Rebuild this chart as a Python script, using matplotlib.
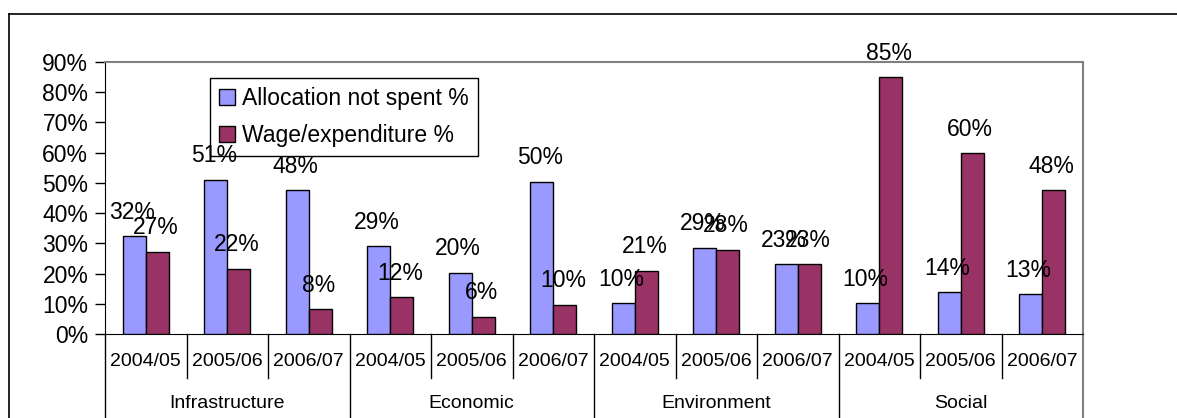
import matplotlib
matplotlib.use("Agg")
import matplotlib.pyplot as plt
from matplotlib.lines import Line2D
import numpy as np

plt.rcParams['font.family'] = ['Liberation Sans', 'DejaVu Sans']

years = ["2004/05", "2005/06", "2006/07"] * 4
groups = ["Infrastructure", "Economic", "Environment", "Social"]
not_spent = [32.4, 51.1, 47.6, 29.0, 20.3, 50.4, 10.3, 28.6, 23.1, 10.3, 13.9, 13.3]
wage_exp = [27.3, 21.6, 8.2, 12.2, 5.8, 9.8, 20.9, 27.9, 23.1, 84.8, 59.8, 47.6]
series_names = ["Allocation not spent %", "Wage/expenditure %"]
yticks = list(range(0, 91, 10))

W, H = 1177, 418
fig = plt.figure(figsize=(W / 100, H / 100), dpi=100)

# outer chart frame (left and top)
fig.add_artist(Line2D([9 / W, 9 / W], [0, 1 - 14 / H], color='black', lw=1.2))
fig.add_artist(Line2D([9 / W, 1], [1 - 14 / H, 1 - 14 / H], color='black', lw=1.2))

L, R, T, B = 105, 1083, 61.7, 334.3
ax = fig.add_axes([L / W, 1 - B / H, (R - L) / W, (B - T) / H])

x = np.arange(len(years))
bw = 0.285
b1 = ax.bar(x - bw / 2, not_spent, bw, color='#9999FF', edgecolor='black', lw=1.0,
            label=series_names[0], zorder=3)
b2 = ax.bar(x + bw / 2, wage_exp, bw, color='#993366', edgecolor='black', lw=1.0,
            label=series_names[1], zorder=3)

for bars, vals in ((b1, not_spent), (b2, wage_exp)):
    for rect, v in zip(bars, vals):
        ax.annotate(f"{round(v)}%", (rect.get_x() + rect.get_width() / 2, v),
                    xytext=(-2, 24), textcoords='offset pixels',
                    ha='center', va='center', fontsize=16.5, zorder=5,
                    annotation_clip=False)

ax.set_xlim(-0.5, len(years) - 0.5)
ax.set_ylim(0, 90)
ax.set_yticks(yticks)
ax.set_yticklabels([f"{t}%" for t in yticks], fontsize=16.5)
ax.tick_params(axis='y', direction='out', length=7, width=1, pad=5)
ax.set_xticks([])

for s in ('top', 'right'):
    ax.spines[s].set_color('#808080')
    ax.spines[s].set_linewidth(1.5)
ax.spines['left'].set_color('black')
ax.spines['bottom'].set_color('black')
ax.spines['right'].set_visible(False)

ph = B - T
bottom_ax = -(H - B) / ph
# right border extending down
ax.add_line(Line2D([1, 1], [1, bottom_ax], transform=ax.transAxes, color='#808080',
                   lw=1.5, clip_on=False))
ax.add_line(Line2D([0, 0], [0, bottom_ax], transform=ax.transAxes, color='black',
                   lw=1, clip_on=False))

trans = ax.get_xaxis_transform()
year_sep_bottom = -(378 - B) / ph
for i in range(1, len(years)):
    xb = i - 0.5
    y1 = bottom_ax if i % 3 == 0 else year_sep_bottom
    ax.add_line(Line2D([xb, xb], [0, y1], transform=trans, color='black', lw=1,
                       clip_on=False))

for i, yl in enumerate(years):
    ax.text(i, -(361 - B) / ph, yl, transform=trans, ha='center', va='center',
            fontsize=14)
for g, name in enumerate(groups):
    ax.text(3 * g + 1, -(404 - B) / ph, name, transform=trans, ha='center',
            va='center', fontsize=14)

leg = ax.legend(loc='upper left', bbox_to_anchor=((210 - L) / (R - L), (B - 77.7) / ph),
                borderaxespad=0, fancybox=False, edgecolor='black', framealpha=1,
                fontsize=16.5, handlelength=0.7, handleheight=0.7, handletextpad=0.3,
                borderpad=0.4, labelspacing=0.6)
leg.get_frame().set_linewidth(1)
leg.set_zorder(4)

fig.savefig("out.png", dpi=100)
